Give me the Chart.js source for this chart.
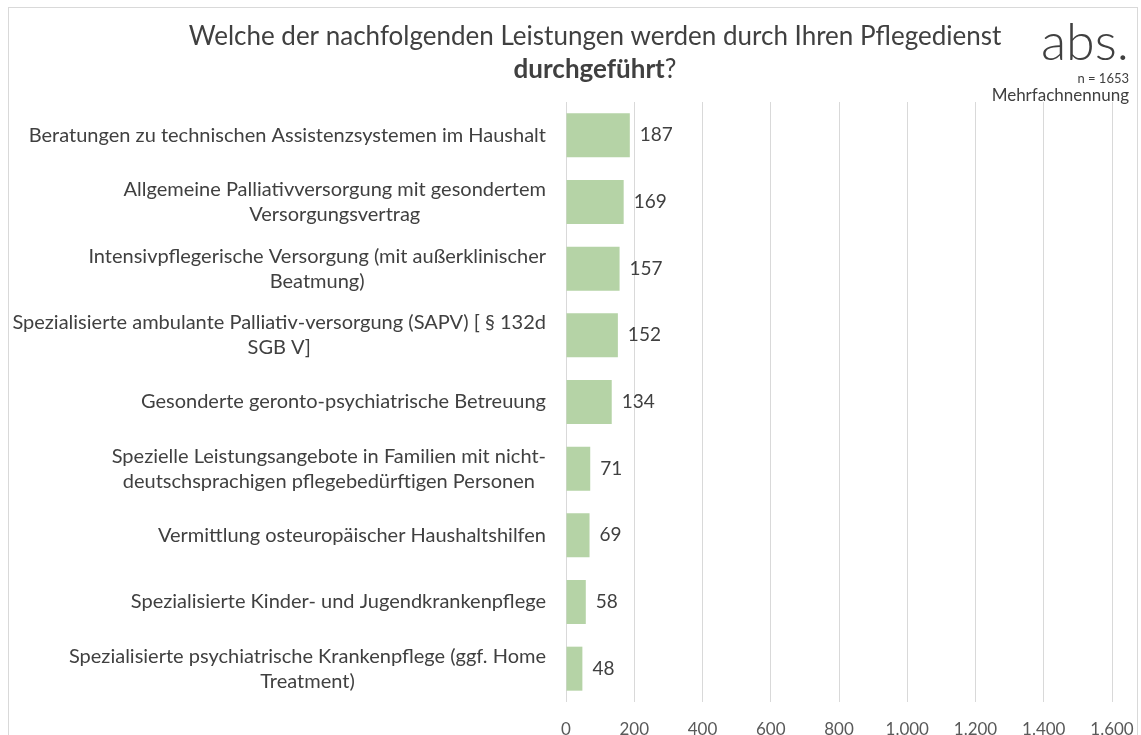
<!DOCTYPE html>
<html>
<head>
<meta charset="utf-8">
<script src="https://cdn.jsdelivr.net/npm/chart.js@4.4.1/dist/chart.umd.min.js"></script>
<style>
  html, body { margin: 0; padding: 0; background: #fff; }
  #wrap { width: 1141px; height: 735px; position: relative; }
</style>
</head>
<body>
<div id="wrap"><canvas id="barChart"></canvas></div>
<script>
const categories = [
    ["Beratungen zu technischen Assistenzsystemen im Haushalt"],
    ["Allgemeine Palliativversorgung mit gesondertem", "Versorgungsvertrag"],
    ["Intensivpflegerische Versorgung (mit außerklinischer", "Beatmung)"],
    ["Spezialisierte ambulante Palliativ-versorgung (SAPV) [ § 132d", "SGB V]"],
    ["Gesonderte geronto-psychiatrische Betreuung"],
    ["Spezielle Leistungsangebote in Familien mit nicht-", "deutschsprachigen pflegebedürftigen Personen"],
    ["Vermittlung osteuropäischer Haushaltshilfen"],
    ["Spezialisierte Kinder- und Jugendkrankenpflege"],
    ["Spezialisierte psychiatrische Krankenpflege (ggf. Home", "Treatment)"]
];
const counts = [187, 169, 157, 152, 134, 71, 69, 58, 48];
const xTickLabels = ["0", "200", "400", "600", "800", "1.000", "1.200", "1.400", "1.600"];

const FONT = "Lato, 'Noto Sans', sans-serif";
const TEXT = "#404040";

// category labels: block right-aligned, lines centered inside the block
const labelPlugin = {
    id: "labels",
    afterDraw(chart) {
        const c = chart.ctx;
        const y = chart.scales.y;
        c.save();
        c.font = "20px " + FONT;
        c.fillStyle = TEXT;
        c.textBaseline = "middle";
        c.textAlign = "center";
        const right = 546, lh = 25;
        categories.forEach((lines, i) => {
            const yc = y.getPixelForValue(i);
            const w = Math.max(...lines.map(l => c.measureText(l).width));
            const cx = right - w / 2;
            lines.forEach((l, j) => {
                c.fillText(l, cx, yc + (j - (lines.length - 1) / 2) * lh);
            });
        });

        // value labels
        const meta = chart.getDatasetMeta(0);
        c.font = "19px " + FONT;
        c.textAlign = "left";
        meta.data.forEach((bar, i) => {
            c.fillText(String(counts[i]), bar.x + 10, bar.y);
        });

        // title
        c.textAlign = "center";
        c.textBaseline = "alphabetic";
        c.font = "26px " + FONT;
        c.fillText("Welche der nachfolgenden Leistungen werden durch Ihren Pflegedienst", 595, 45);
        c.font = "bold 26px " + FONT;
        const b = "durchgeführt";
        const bw = c.measureText(b).width;
        c.font = "26px " + FONT;
        const qw = c.measureText("?").width;
        const x0 = 595 - (bw + qw) / 2;
        c.textAlign = "left";
        c.font = "bold 26px " + FONT;
        c.fillText(b, x0, 78);
        c.font = "26px " + FONT;
        c.fillText("?", x0 + bw, 78);

        // top-right notes
        c.textAlign = "right";
        c.font = "300 52px " + FONT;
        c.fillText("abs.", 1129, 60);
        c.font = "13px " + FONT;
        c.fillText("n = 1653", 1129, 83);
        c.font = "17px " + FONT;
        c.fillText("Mehrfachnennung", 1129, 101);

        // frame
        c.strokeStyle = "#d9d9d9";
        c.lineWidth = 1;
        c.strokeRect(8.5, 7.5, 1129, 760);
        c.restore();
    }
};

const ctx = document.getElementById("barChart").getContext("2d");

const chart = new Chart(ctx, {
    type: "bar",
    data: {
        labels: categories,
        datasets: [{
            data: counts,
            backgroundColor: "#b5d3a6",
            borderWidth: 0,
            categoryPercentage: 1,
            barPercentage: 0.66
        }]
    },
    options: {
        indexAxis: "y",
        responsive: true,
        maintainAspectRatio: false,
        animation: false,
        layout: { padding: { top: 102, right: 29, bottom: 0, left: 0 } },
        plugins: {
            legend: { display: false },
            tooltip: { enabled: false }
        },
        scales: {
            x: {
                min: 0,
                max: 1600,
                ticks: {
                    stepSize: 200,
                    padding: 17,
                    color: "#595959",
                    font: { family: FONT, size: 17 },
                    callback: (v, i) => xTickLabels[i]
                },
                grid: { color: "#d9d9d9", drawTicks: false },
                border: { display: false },
                afterFit: s => {
                    s.height = 33;
                    s.paddingLeft = 0;
                    s.paddingRight = 0;
                }
            },
            y: {
                ticks: { display: false },
                grid: { display: false },
                border: { display: false },
                afterFit: s => { s.width = 566; }
            }
        }
    },
    plugins: [labelPlugin]
});
</script>
</body>
</html>
